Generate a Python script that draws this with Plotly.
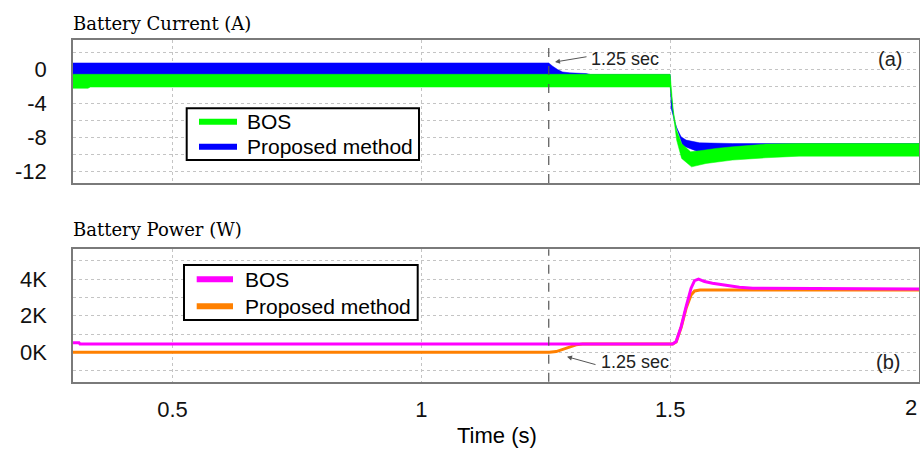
import plotly.graph_objects as go

# ---------------- data ----------------
# Battery current envelopes (A) - oscillating bands drawn as filled envelopes
t_bos_up = [0.30, 1.500, 1.506, 1.513, 1.523, 1.541, 1.559, 1.592, 1.625, 1.692, 1.759, 2.00]
bos_up   = [-0.60, -0.60, -4.8, -7.2, -8.75, -9.73, -9.61, -9.33, -9.14, -8.82, -8.75, -8.75]
t_bos_lo = [0.30, 0.33, 0.335, 1.500, 1.506, 1.513, 1.523, 1.543, 1.572, 1.625, 1.692, 1.759, 2.00]
bos_lo   = [-2.25, -2.25, -2.10, -2.10, -5.2, -8.35, -10.5, -11.5, -11.1, -10.7, -10.43, -10.24, -10.24]

t_pm_up = [0.30, 1.256, 1.264, 1.274, 1.284, 1.298, 1.331, 1.340, 1.500, 1.502, 1.512, 1.522, 1.532, 1.559, 1.625, 1.692, 2.00]
pm_up   = [0.74, 0.74, 0.35, -0.04, -0.32, -0.43, -0.51, -0.62, -0.62, -4.63, -6.78, -7.96, -8.35, -8.67, -8.75, -8.75, -8.75]
t_pm_lo = [0.30, 1.256, 1.30, 1.500, 1.508, 1.525, 1.56, 2.00]
pm_lo   = [-0.74, -0.74, -1.9, -1.9, -6.0, -9.0, -9.8, -9.8]

# Battery power (W)
t_bos_p = [0.30, 0.312, 0.314, 1.505, 1.512, 1.522, 1.532, 1.542, 1.549, 1.557, 1.569, 1.585, 1.612, 1.639, 1.666, 2.00]
bos_p   = [530, 530, 460, 460, 590, 1400, 2500, 3500, 3910, 3990, 3860, 3770, 3660, 3550, 3500, 3460]
t_pm_p  = [0.30, 1.257, 1.271, 1.284, 1.298, 1.311, 1.324, 1.505, 1.512, 1.522, 1.532, 1.542, 1.549, 1.560, 2.00]
pm_p    = [0, 0, 44, 174, 316, 409, 455, 455, 560, 1350, 2400, 3130, 3350, 3400, 3400]

series_names = ["BOS", "Proposed method"]
cur_ticks = [0, -4, -8, -12]
cur_ticktext = ["0", "-4", "-8", "-12"]
pow_ticks = [0, 2000, 4000]
pow_ticktext = ["0K", "2K", "4K"]
x_ticks = [0.5, 1, 1.5]
x_ticktext = ["0.5", "1", "1.5"]
event_time = 1.256

GREEN = "#00ff00"
BLUE = "#0000ff"
MAGENTA = "#ff00ff"
ORANGE = "#ff8000"

W, H = 920, 450
ML, MR, MT, MB = 73, 1, 0, 0
PW = W - ML - MR


def px_x(p):
    return (p - ML) / PW


def px_y(p):
    return 1 - p / H


fig = go.Figure()


def band(t_up, up, t_lo, lo, color, name, xa, ya):
    return go.Scatter(
        x=list(t_up) + list(reversed(t_lo)),
        y=list(up) + list(reversed(lo)),
        fill="toself", fillcolor=color, mode="lines",
        line=dict(color=color, width=0.5), name=name,
        showlegend=False, hoverinfo="skip", xaxis=xa, yaxis=ya,
    )


# top panel: blue first, green on top
fig.add_trace(band(t_pm_up, pm_up, t_pm_lo, pm_lo, BLUE, series_names[1], "x", "y"))
fig.add_trace(band(t_bos_up, bos_up, t_bos_lo, bos_lo, GREEN, series_names[0], "x", "y"))

# bottom panel: orange first, magenta on top
fig.add_trace(go.Scatter(x=t_pm_p, y=pm_p, mode="lines", line=dict(color=ORANGE, width=3),
                         name=series_names[1], showlegend=False, xaxis="x2", yaxis="y2"))
fig.add_trace(go.Scatter(x=t_bos_p, y=bos_p, mode="lines", line=dict(color=MAGENTA, width=3),
                         name=series_names[0], showlegend=False, xaxis="x2", yaxis="y2"))

SANS = "Liberation Sans"
GRID = "#c4c4c4"
FRAME = "#7a7a7a"

xcommon = dict(range=[0.3, 2.0], tickvals=x_ticks, ticktext=x_ticktext, showgrid=True,
               gridcolor=GRID, griddash="dot", gridwidth=1, zeroline=False,
               showline=True, mirror=True, linecolor=FRAME, linewidth=1.5, ticks="",
               tickfont=dict(family=SANS, size=22, color="#111"), automargin=False)
ycommon = dict(showgrid=True, gridcolor=GRID, griddash="dot", gridwidth=1, zeroline=False,
               showline=True, mirror=True, linecolor=FRAME, linewidth=1.5, ticks="",
               tickfont=dict(family=SANS, size=22, color="#111"), automargin=False,
               ticklabelstandoff=20)

fig.update_layout(
    width=W, height=H, margin=dict(l=ML, r=MR, t=MT, b=MB),
    paper_bgcolor="white", plot_bgcolor="white", showlegend=False,
    xaxis=dict(**xcommon, domain=[0, 1], anchor="y", showticklabels=False),
    yaxis=dict(**ycommon, domain=[px_y(183), px_y(39.5)], range=[-13.4, 3.5],
               tickvals=cur_ticks, ticktext=cur_ticktext,
               minor=dict(dtick=2, tick0=0, showgrid=True, gridcolor=GRID, griddash="dot", gridwidth=1)),
    xaxis2=dict(**xcommon, domain=[0, 1], anchor="y2", matches="x", ticklabelstandoff=7),
    yaxis2=dict(**ycommon, domain=[px_y(381.7), px_y(249.3)], range=[-1600, 5620],
                tickvals=pow_ticks, ticktext=pow_ticktext,
                minor=dict(dtick=1000, tick0=0, showgrid=True, gridcolor=GRID, griddash="dot", gridwidth=1)),
)

# event markers
for ya in ["y", "y2"]:
    fig.add_shape(type="line", xref="x" if ya == "y" else "x2", yref=f"{ya} domain",
                  x0=event_time, x1=event_time, y0=0, y1=1,
                  line=dict(color="#555555", width=1.2, dash="dash"), layer="above")

ann = []


# ---- legends (box, line samples and real text) ----
def add_legend(box, rows, sample_x, text_x, colors):
    x0, y0, x1, y1 = box
    fig.add_shape(type="rect", xref="paper", yref="paper",
                  x0=px_x(x0), x1=px_x(x1), y0=px_y(y1), y1=px_y(y0),
                  line=dict(color="black", width=2), fillcolor="white", layer="above")
    for name, ry, col in zip(series_names, rows, colors):
        fig.add_shape(type="line", xref="paper", yref="paper",
                      x0=px_x(sample_x[0]), x1=px_x(sample_x[1]), y0=px_y(ry), y1=px_y(ry),
                      line=dict(color=col, width=6), layer="above")
        ann.append(dict(text=name, xref="paper", yref="paper", x=px_x(text_x), y=px_y(ry),
                        xanchor="left", yanchor="middle", showarrow=False,
                        font=dict(family=SANS, size=21, color="black")))


add_legend((186.7, 108.3, 419, 160), (121.7, 146.7), (199, 237), 245, (GREEN, BLUE))
add_legend((184, 265, 417.7, 320), (279.3, 306.3), (196.7, 233), 243, (MAGENTA, ORANGE))

SERIF = "DejaVu Serif"
ann.append(dict(text="Battery Current (A)", xref="paper", yref="paper", x=px_x(71), y=px_y(23),
                xanchor="left", yanchor="middle", showarrow=False,
                font=dict(family=SERIF, size=18, color="black")))
ann.append(dict(text="Battery Power (W)", xref="paper", yref="paper", x=px_x(71), y=px_y(229.5),
                xanchor="left", yanchor="middle", showarrow=False,
                font=dict(family=SERIF, size=18, color="black")))
ann.append(dict(text="Time (s)", xref="paper", yref="paper", x=px_x(496.5), y=px_y(435),
                xanchor="center", yanchor="middle", showarrow=False,
                font=dict(family=SANS, size=22, color="black")))
ann.append(dict(text="2", xref="paper", yref="paper", x=px_x(919), y=px_y(407),
                xanchor="right", yanchor="middle", showarrow=False,
                font=dict(family=SANS, size=22, color="#111")))
ann.append(dict(text="(a)", xref="paper", yref="paper", x=px_x(889.5), y=px_y(59),
                xanchor="center", yanchor="middle", showarrow=False,
                font=dict(family=SANS, size=20, color="#222")))
ann.append(dict(text="(b)", xref="paper", yref="paper", x=px_x(888), y=px_y(361.7),
                xanchor="center", yanchor="middle", showarrow=False,
                font=dict(family=SANS, size=20, color="#222")))
# "1.25 sec" labels with arrows
ann.append(dict(text="1.25 sec", xref="paper", yref="paper", x=px_x(589), y=px_y(59),
                xanchor="left", yanchor="middle", showarrow=False,
                font=dict(family=SANS, size=18, color="#222")))
ann.append(dict(text="", xref="paper", yref="paper", x=px_x(555), y=px_y(62),
                ax=33, ay=-5.5, axref="pixel", ayref="pixel",
                showarrow=True, arrowhead=2, arrowsize=1, arrowwidth=1, arrowcolor="#555"))
ann.append(dict(text="1.25 sec", xref="paper", yref="paper", x=px_x(599), y=px_y(362),
                xanchor="left", yanchor="middle", showarrow=False,
                font=dict(family=SANS, size=18, color="#222")))
ann.append(dict(text="", xref="paper", yref="paper", x=px_x(567), y=px_y(356.7),
                ax=30, ay=8.3, axref="pixel", ayref="pixel",
                showarrow=True, arrowhead=2, arrowsize=1, arrowwidth=1, arrowcolor="#555"))
fig.update_layout(annotations=ann)

fig.write_html("out.html")
